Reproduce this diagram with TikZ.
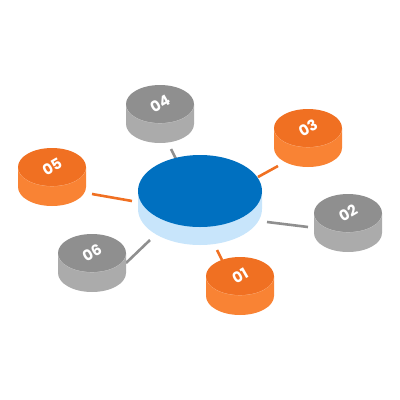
\documentclass[tikz,border=0pt]{standalone}
\usepackage{fontspec}
\usepackage{graphicx}
\setsansfont{Poppins}
\usetikzlibrary{shapes.geometric}
\definecolor{bluetop}{HTML}{0070C0}
\definecolor{blueside}{HTML}{C8E5FB}
\definecolor{orgtop}{HTML}{F07022}
\definecolor{orgside}{HTML}{F98334}
\definecolor{graytop}{HTML}{8F8F8F}
\definecolor{grayside}{HTML}{ABABAB}
\tikzset{
  conn/.style={line width=2.6pt},
  disktop/.style={ellipse,inner sep=0pt,text=white,font=\sffamily\bfseries\fontsize{15}{15}\selectfont},
}
% \diskdraw{name}{cx}{cy}{rx}{ry}{thick}{top}{side}{label}
\newcommand{\diskdraw}[9]{%
  \fill[#8] ({#2-#4},#3) -- ({#2-#4},{#3+#6}) arc[start angle=180,end angle=0,x radius=#4,y radius=#5] -- ({#2+#4},#3) -- cycle;
  \draw[white,opacity=0.45,line width=0.6pt] ({#2-#4},#3) arc[start angle=180,end angle=0,x radius=#4,y radius=#5];
  \node[disktop,fill=#7,minimum width={2*#4*1pt},minimum height={2*#5*1pt}] (#1) at (#2,#3) {\rotatebox{30}{#9}};
}
\begin{document}
\begin{tikzpicture}[x=1pt,y=-1pt]
\useasboundingbox (0,0) rectangle (400,400);
% connectors
\coordinate (c4a) at (171,149); \coordinate (c4b) at (176,159);
\coordinate (c3a) at (258,177); \coordinate (c3b) at (278,166);
\coordinate (c2a) at (267,222); \coordinate (c2b) at (308,227);
\coordinate (c5a) at (92,194); \coordinate (c5b) at (132,201);
\coordinate (c6a) at (126,263); \coordinate (c6b) at (150,240);
\coordinate (c1a) at (217,250); \coordinate (c1b) at (222,260);
\draw[conn,graytop] (c4a) -- (c4b);
\draw[conn,orgtop] (c3a) -- (c3b);
\draw[conn,graytop] (c2a) -- (c2b);
\draw[conn,orgtop] (c5a) -- (c5b);
\draw[conn,graytop] (c6a) -- (c6b);
\draw[conn,orgtop] (c1a) -- (c1b);
% disks
\diskdraw{d4}{160}{104}{34}{19}{20}{graytop}{grayside}{04}
\diskdraw{d3}{308}{128}{34}{19}{20}{orgtop}{orgside}{03}
\diskdraw{d5}{52}{167}{34}{19}{20}{orgtop}{orgside}{05}
\fill[blueside] (138,191) -- (138,209) arc[start angle=180,end angle=0,x radius=62,y radius=36] -- (262,191) -- cycle;
\node[ellipse,fill=bluetop,minimum width=124pt,minimum height=72pt,inner sep=0pt] (hub) at (200,191) {};
\diskdraw{d2}{348}{213}{34}{19}{20}{graytop}{grayside}{02}
\diskdraw{d6}{92}{253}{34}{19}{20}{graytop}{grayside}{06}
\diskdraw{d1}{240}{276}{34}{19}{20}{orgtop}{orgside}{01}
\end{tikzpicture}
\end{document}
